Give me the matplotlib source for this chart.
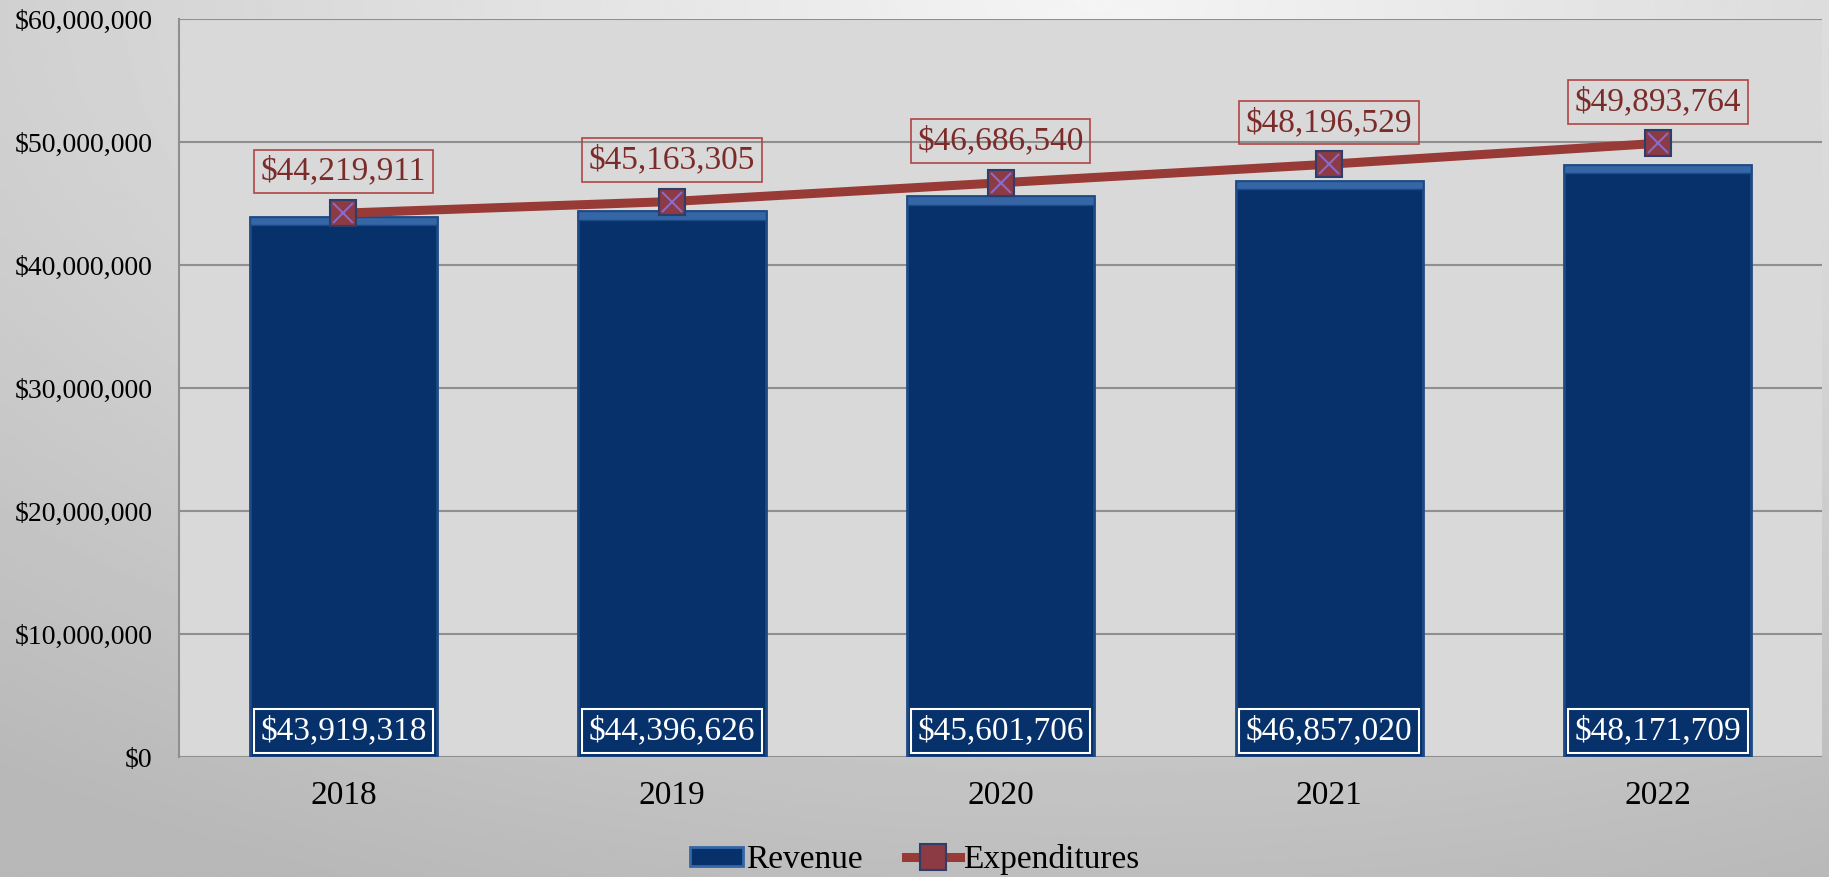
import numpy as np
import matplotlib
matplotlib.use('Agg')
import matplotlib.pyplot as plt
from matplotlib.ticker import FuncFormatter, MultipleLocator
from matplotlib.lines import Line2D
from matplotlib.patches import Patch

plt.rcParams['font.family'] = ['Liberation Serif', 'DejaVu Serif']

years = ['2018', '2019', '2020', '2021', '2022']
revenue = [43919318, 44396626, 45601706, 46857020, 48171709]
expenditures = [44219911, 45163305, 46686540, 48196529, 49893764]

BAR_COLOR = '#07316b'
BAR_EDGE = '#1d4a85'
BEVEL = '#3566a6'
LINE_COLOR = '#983a36'
LABEL_RED = '#7b2c2a'

fig = plt.figure(figsize=(18.29, 8.77), dpi=100)

# gray backdrop, lighter at the top middle
bg = fig.add_axes([0, 0, 1, 1], zorder=-10)
yy, xx = np.mgrid[0:1:300j, 0:1:600j]
dist = np.sqrt((xx - 0.6) ** 2 + (yy * 0.9) ** 2)
shade = 0.96 - 0.24 * np.clip(dist / 1.0, 0, 1)
bg.imshow(shade, cmap='gray', vmin=0, vmax=1, aspect='auto', extent=[0, 1, 0, 1], origin='upper')
bg.axis('off')

ax = fig.add_axes([0.0979, 0.1368, 0.8983, 0.8415])
ax.set_facecolor('#d9d9d9')

x = np.arange(len(years))
bar_w = 0.57
ax.bar(x, revenue, width=bar_w, color=BAR_COLOR, edgecolor=BAR_EDGE, linewidth=2, zorder=3)
# lighter bevel strip along the top of each bar
band = 700000
ax.bar(x, [band] * len(x), bottom=[v - band for v in revenue], width=bar_w,
       color=BEVEL, edgecolor=BAR_EDGE, linewidth=1, zorder=3)

ax.plot(x, expenditures, color=LINE_COLOR, lw=6.5, solid_capstyle='round', zorder=4)
ax.plot(x, expenditures, ls='none', marker='s', ms=19, mfc='#8c3a44', mec='#2d3e6b', mew=1.5, zorder=5)
ax.plot(x, expenditures, ls='none', marker='x', ms=15, mec='#8a6acb', mew=1.5, zorder=6)

# revenue labels sitting at the foot of each bar
for xi, v in zip(x, revenue):
    ax.annotate('${:,.0f}'.format(v), (xi, 0), xytext=(0, 8), textcoords='offset points',
                ha='center', va='bottom', fontsize=24, color='white', zorder=7,
                bbox=dict(boxstyle='square,pad=0.2', fc=BAR_COLOR, ec='white', lw=1.5))

# expenditure labels above each marker
for xi, v in zip(x, expenditures):
    ax.annotate('${:,.0f}'.format(v), (xi, v), xytext=(0, 19), textcoords='offset points',
                ha='center', va='bottom', fontsize=24, color=LABEL_RED, zorder=7,
                bbox=dict(boxstyle='square,pad=0.2', fc='none', ec='#b04545', lw=1.2))

ax.set_xlim(-0.5, len(years) - 0.5)
ax.set_ylim(0, 60000000)
ax.yaxis.set_major_locator(MultipleLocator(10000000))
ax.yaxis.set_major_formatter(FuncFormatter(lambda v, p: '${:,.0f}'.format(v)))
ax.set_xticks(x)
ax.set_xticklabels(years)
ax.tick_params(axis='y', length=0, pad=19, labelsize=20)
ax.tick_params(axis='x', length=0, pad=17, labelsize=24)
ax.grid(axis='y', color='#8f8f8f', lw=1.5, zorder=0)
ax.set_axisbelow(True)
for side in ['top', 'right', 'bottom']:
    ax.spines[side].set_visible(False)
ax.spines['left'].set_color('#8f8f8f')
ax.spines['left'].set_linewidth(1.5)

handles = [Patch(fc=BAR_COLOR, ec=BEVEL, lw=2, label='Revenue'),
           Line2D([], [], color=LINE_COLOR, lw=6.5, marker='s', ms=19, mfc='#8c3a44',
                  mec='#2d3e6b', mew=1.5, label='Expenditures')]
fig.legend(handles=handles, loc='lower center', bbox_to_anchor=(0.5, -0.032), ncol=2,
           frameon=False, fontsize=24, handlelength=1.6, handleheight=0.5,
           handletextpad=0.1, columnspacing=1.3)

fig.savefig('out.png', dpi=100)
